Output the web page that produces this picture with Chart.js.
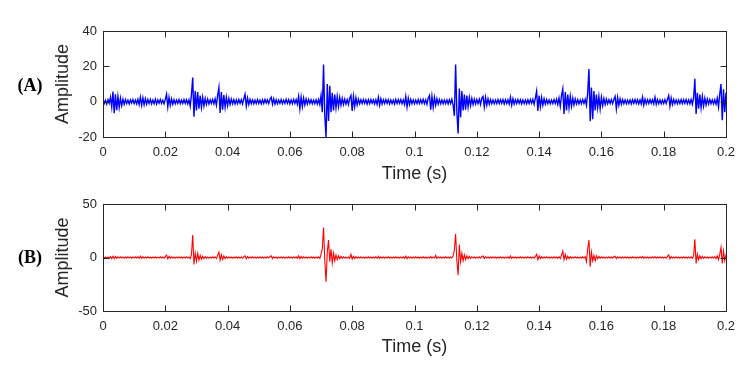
<!DOCTYPE html>
<html>
<head>
<meta charset="utf-8">
<script src="https://cdn.jsdelivr.net/npm/chart.js@4.4.1/dist/chart.umd.min.js"></script>
<style>
  body { margin: 0; background: #fff; }
  #wrap { position: relative; width: 750px; height: 380px; }
  #wrap canvas { position: absolute; left: 0; }
</style>
</head>
<body>
<div id="wrap">
  <canvas id="chartA" width="750" height="190" style="top:0"></canvas>
  <canvas id="chartB" width="750" height="190" style="top:173px"></canvas>
</div>
<script>
// sampling interval of both records (s)
const sampleStep = 0.0004;

const xTicks = [0, 0.02, 0.04, 0.06, 0.08, 0.1, 0.12, 0.14, 0.16, 0.18, 0.2];
const xTickLabels = ['0', '0.02', '0.04', '0.06', '0.08', '0.1', '0.12', '0.14', '0.16', '0.18', '0.2'];

const yTicksA = [-20, 0, 20, 40];
const yTickLabelsA = ['-20', '0', '20', '40'];
const yTicksB = [-50, 0, 50];
const yTickLabelsB = ['-50', '0', '50'];

// (A) raw signal, one row per 0.01 s
const signalA = [
  1.2,-1.0,0.8,-1.4,1.1,-0.9,2.5,-3.0,5.7,-6.5,4.2,-4.8,3.0,-3.2,2.0,-2.2,1.4,-1.5,1.2,-1.1,0.9,-1.3,1.0,-0.8,1.2,
  -1.1,0.9,-1.2,1.3,-1.6,2.5,-2.0,2.2,-1.8,1.6,-1.4,1.2,-1.0,1.3,-1.2,0.9,-1.1,1.4,-1.3,1.0,-0.9,1.2,-1.0,0.8,-1.2,
  1.3,4.2,-3.0,2.4,-2.0,1.6,-1.4,1.1,-1.2,0.9,-1.0,1.2,-1.1,0.8,-1.0,1.2,-0.9,1.1,-1.2,1.0,-2.5,4.0,13.6,-8.5,6.0,
  -5.0,5.5,-4.0,3.5,-3.2,2.5,-2.4,1.8,-1.6,1.4,-1.3,1.1,-1.0,1.3,-1.2,1.6,-2.0,3.5,8.0,-6.4,5.5,-4.6,3.8,-3.2,2.5,
  -2.2,1.8,-1.6,1.4,-1.2,1.1,-1.3,1.0,-1.1,1.2,-0.9,1.1,-1.2,1.6,4.2,-2.5,2.0,-1.6,1.3,-1.1,1.0,-1.2,0.9,-1.1,1.2,
  -1.0,0.9,-1.3,1.1,-1.0,1.2,-0.8,1.0,-1.1,1.4,2.5,-1.5,1.6,-1.3,1.1,-1.2,0.9,-1.0,1.2,-1.1,0.8,-1.0,1.3,-0.9,1.1,
  -1.2,1.0,-1.1,1.3,-1.0,1.2,-1.5,3.0,-4.0,2.6,-2.8,2.0,-1.8,1.5,-1.3,1.2,-1.0,1.1,-1.2,0.9,-1.1,1.0,-1.3,1.2,-1.6,
  3.5,-6.0,21.0,-8.0,-20.0,10.0,-11.0,9.0,-6.0,5.0,-5.0,4.0,-3.5,3.0,-2.8,2.4,-2.0,1.8,-1.6,1.4,-1.3,1.2,-1.5,2.0,3.5,
  -5.3,3.0,-2.8,2.2,-1.8,1.4,-1.2,1.1,-1.0,1.2,-0.9,1.1,-1.3,1.0,-1.1,1.2,-0.9,1.0,-1.2,1.1,-1.5,2.5,-2.0,1.6,-1.3,
  1.1,-1.0,1.2,-0.9,1.1,-1.2,1.0,-1.1,0.9,-1.3,1.2,-1.0,1.1,-0.9,1.2,-1.1,1.0,-1.6,3.0,-3.0,2.0,-1.6,1.3,-1.1,1.0,
  -1.2,0.9,-1.1,1.2,-1.0,1.1,-0.9,1.3,-1.1,1.0,-1.5,2.0,3.5,-4.5,3.0,-3.2,2.4,-2.0,1.6,-1.4,1.2,-1.1,1.0,-1.2,0.9,
  -1.1,1.0,-1.2,1.1,-1.0,1.3,-2.0,-8.0,21.0,-6.0,-18.0,7.5,-9.0,6.0,-5.0,4.0,-4.5,3.5,-3.0,2.5,-2.2,1.8,-1.6,1.4,-1.3,
  1.2,-1.1,1.4,-1.6,2.0,3.0,-3.0,2.4,-2.0,1.6,-1.4,1.2,-1.1,1.0,-1.2,0.9,-1.1,1.2,-1.0,1.1,-0.9,1.2,-1.3,1.0,-1.1,
  1.0,-1.3,2.5,-2.0,1.6,-1.3,1.1,-1.0,1.2,-0.9,1.1,-1.2,1.0,-1.1,0.9,-1.2,1.1,-1.0,1.2,-0.9,1.3,-1.5,2.0,6.0,-5.2,
  3.5,-3.0,2.4,-2.0,1.6,-1.4,1.2,-1.1,1.0,-1.2,0.9,-1.1,1.2,-1.0,1.4,-1.6,2.0,-2.6,3.5,7.2,-7.0,5.5,-5.0,4.0,-3.5,
  3.0,-2.6,2.0,-1.8,1.5,-1.3,1.1,-1.2,1.0,-1.1,1.2,-1.0,1.3,-2.0,5.0,18.5,-11.0,8.0,-10.0,6.0,-5.0,4.0,-3.5,3.0,-4.0,
  2.5,-2.2,1.8,-1.6,1.4,-1.2,1.1,-1.0,1.2,-1.1,1.3,3.0,-4.0,2.4,-2.0,1.6,-1.4,1.2,-1.1,1.0,-1.2,0.9,-1.1,1.0,-1.2,
  1.1,-0.9,1.2,-1.0,1.1,-1.2,1.0,-1.3,2.5,-2.0,1.4,-1.2,1.1,-1.0,1.2,-0.9,1.1,-1.2,2.5,-1.6,1.2,-1.1,1.0,-1.2,0.9,
  -1.1,1.2,-1.0,1.3,3.5,-2.5,2.0,-1.6,1.3,-1.1,1.0,-1.2,0.9,-1.1,1.2,-1.0,1.1,-0.9,1.2,-1.1,1.0,-1.2,1.3,-1.5,2.0,
  13.0,-7.0,5.0,-4.0,4.0,-3.5,3.0,-2.5,2.0,-1.8,1.5,-1.3,1.2,-1.1,1.0,-1.2,1.1,-1.4,2.0,-3.0,4.5,10.0,-10.5,7.0,-6.0,
  5.0
];

// (B) processed signal, one row per 0.01 s
const signalB = [
  0.6,-0.5,0.4,-0.7,0.5,-0.4,0.8,-1.0,1.2,-1.1,0.9,-0.8,0.6,-0.5,0.7,-0.4,0.5,-0.6,0.4,-0.5,0.6,-0.4,0.5,-0.6,0.4,
  -0.5,0.6,-0.4,0.7,-0.8,1.2,-0.9,0.8,-0.6,0.5,-0.4,0.6,-0.5,0.4,-0.6,0.5,-0.4,0.6,-0.5,0.4,-0.5,0.6,-0.4,0.5,-0.6,
  0.8,2.3,-1.2,1.0,-0.8,0.6,-0.5,0.4,-0.6,0.5,-0.4,0.6,-0.5,0.4,-0.6,0.5,-0.4,0.6,-0.5,0.4,-1.0,3.0,21.0,-6.5,4.0,
  -3.5,4.0,-2.5,2.0,-1.6,1.2,-1.0,0.8,-0.6,0.5,-0.6,0.4,-0.5,0.6,-0.4,0.7,-0.9,2.0,5.0,-2.5,2.5,-1.8,1.4,-1.0,0.8,
  -0.7,0.6,-0.5,0.4,-0.6,0.5,-0.4,0.6,-0.5,0.4,-0.6,0.5,-0.7,0.8,1.5,-1.2,0.9,-0.7,0.5,-0.4,0.6,-0.5,0.4,-0.6,0.5,
  -0.4,0.6,-0.5,0.4,-0.6,0.5,-0.4,0.6,-0.5,0.8,1.5,-1.0,0.7,-0.5,0.4,-0.6,0.5,-0.4,0.6,-0.5,0.4,-0.6,0.5,-0.4,0.6,
  -0.5,0.4,-0.6,0.5,-0.4,0.6,-0.7,1.5,-1.2,0.9,-0.8,0.6,-0.5,0.4,-0.6,0.5,-0.4,0.6,-0.5,0.4,-0.6,0.5,-0.4,0.6,-0.8,
  3.0,8.0,28.0,-3.0,-22.6,5.0,16.4,-4.0,8.0,-5.0,4.0,-3.0,2.5,-2.0,1.6,-1.2,1.0,-0.8,0.6,-0.5,0.4,-0.6,0.5,-0.8,3.0,
  -1.5,1.2,-1.0,0.8,-0.6,0.5,-0.4,0.6,-0.5,0.4,-0.6,0.5,-0.4,0.6,-0.5,0.4,-0.6,0.5,-0.4,0.6,-0.7,1.2,-0.8,0.6,-0.5,
  0.4,-0.6,0.5,-0.4,0.6,-0.5,0.4,-0.6,0.5,-0.4,0.6,-0.5,0.4,-0.6,0.5,-0.4,0.6,-0.7,1.2,-1.0,0.7,-0.5,0.4,-0.6,0.5,
  -0.4,0.6,-0.5,0.4,-0.6,0.5,-0.4,0.6,-0.5,0.4,-0.6,0.5,-0.7,0.9,-0.6,0.5,-0.4,2.0,-0.8,0.6,-0.5,0.4,-0.6,0.5,-0.4,
  0.6,-0.5,0.4,-0.6,0.5,-0.4,1.5,7.0,22.0,-3.0,-16.5,12.0,-4.0,4.0,-3.0,2.5,-2.0,1.5,-1.2,1.0,-0.8,0.6,-0.5,0.4,-0.6,
  0.5,-0.4,0.6,-0.7,0.9,1.5,-1.0,0.7,-0.5,0.4,-0.6,0.5,-0.4,0.6,-0.5,0.4,-0.6,0.5,-0.4,0.6,-0.5,0.4,-0.6,0.5,-0.4,
  0.6,-0.7,1.5,-0.9,0.7,-0.5,0.4,-0.6,0.5,-0.4,0.6,-0.5,0.4,-0.6,0.5,-0.4,0.6,-0.5,0.4,-0.6,0.5,-0.7,1.0,3.0,-2.0,
  1.4,-1.0,0.8,-0.6,0.5,-0.4,0.6,-0.5,0.4,-0.6,0.5,-0.4,0.6,-0.5,0.4,-0.6,0.8,-1.0,2.0,6.0,-2.0,3.0,-1.6,1.2,-1.0,
  0.8,-0.6,0.5,-0.4,0.6,-0.5,0.4,-0.6,0.5,-0.4,0.6,-0.5,0.8,-4.0,8.0,16.4,-8.6,5.0,-3.0,2.0,-3.0,1.5,-1.2,1.0,-0.8,
  0.6,-0.5,0.4,-0.6,0.5,-0.4,0.6,-0.5,0.4,-0.6,0.7,1.2,-1.0,0.7,-0.5,0.4,-0.6,0.5,-0.4,0.6,-0.5,0.4,-0.6,0.5,-0.4,
  0.6,-0.5,0.4,-0.6,0.5,-0.4,0.6,-0.5,1.0,-0.8,0.6,-0.5,0.4,-0.6,0.5,-0.4,0.6,-0.5,0.9,-0.6,0.5,-0.4,0.6,-0.5,0.4,
  -0.6,0.5,-0.7,1.0,2.5,-1.2,0.8,-0.6,0.5,-0.4,0.6,-0.5,0.4,-0.6,0.5,-0.4,0.6,-0.5,0.4,-0.6,0.5,-0.4,0.6,-0.7,1.5,
  17.0,-5.5,3.0,-2.0,1.6,-1.2,1.0,-0.8,0.6,-0.5,0.4,-0.6,0.5,-0.4,0.6,-0.7,0.8,-1.0,1.5,-2.0,3.0,9.5,-5.5,6.0,-3.0,
  3.0
];

const axisColor = '#262626';
const sansFont = '"Liberation Sans", Arial, sans-serif';

// box with inward tick marks on all four sides + panel tag "(A)" / "(B)"
const framePlugin = {
  id: 'frame',
  afterDraw(chart, args, opts) {
    const { ctx, chartArea: a, scales } = chart;
    const L = Math.round(a.left) + 0.5, R = Math.round(a.right) + 0.5;
    const T = Math.round(a.top) + 0.5, B = Math.round(a.bottom) + 0.5;
    const tl = 6;
    ctx.save();
    ctx.strokeStyle = axisColor;
    ctx.lineWidth = 1;
    ctx.strokeRect(L, T, R - L, B - T);
    ctx.beginPath();
    scales.x.ticks.forEach(t => {
      const px = Math.round(scales.x.getPixelForValue(t.value)) + 0.5;
      ctx.moveTo(px, B); ctx.lineTo(px, B - tl);
      ctx.moveTo(px, T); ctx.lineTo(px, T + tl);
    });
    scales.y.ticks.forEach(t => {
      const py = Math.round(scales.y.getPixelForValue(t.value)) + 0.5;
      ctx.moveTo(L, py); ctx.lineTo(L + tl, py);
      ctx.moveTo(R, py); ctx.lineTo(R - tl, py);
    });
    ctx.stroke();

    ctx.fillStyle = '#000';
    ctx.font = 'bold 18px "Liberation Serif", "Times New Roman", serif';
    ctx.textAlign = 'center';
    ctx.textBaseline = 'middle';
    ctx.fillText(opts.label, 30, opts.labelY);
    ctx.restore();
  }
};

function buildChart(id, values, color, lineWidth, yTicks, yLabels, panel, cfg) {
  const points = values.map((v, i) => ({ x: i * sampleStep, y: v }));
  return new Chart(document.getElementById(id), {
    type: 'line',
    data: {
      datasets: [{
        data: points,
        borderColor: color,
        borderWidth: lineWidth,
        pointRadius: 0,
        tension: 0,
        fill: false
      }]
    },
    options: {
      responsive: false,
      animation: false,
      events: [],
      layout: { padding: { left: 0, right: 24, top: 31, bottom: 0 } },
      plugins: {
        legend: { display: false },
        tooltip: { enabled: false },
        frame: { label: panel, labelY: cfg.labelY }
      },
      scales: {
        x: {
          type: 'linear',
          min: 0,
          max: 0.2,
          grid: { display: false, drawTicks: false },
          border: { display: false },
          afterBuildTicks: s => { s.ticks = xTicks.map(v => ({ value: v })); },
          afterFit: s => { s.height = cfg.xHeight; },
          ticks: {
            padding: 8,
            color: axisColor,
            maxRotation: 0,
            autoSkip: false,
            font: { family: sansFont, size: 13 },
            callback: (v, i) => xTickLabels[i]
          },
          title: {
            display: true,
            text: 'Time (s)',
            color: axisColor,
            font: { family: sansFont, size: 18 },
            padding: { top: 0, bottom: 5 }
          }
        },
        y: {
          min: yTicks[0],
          max: yTicks[yTicks.length - 1],
          grid: { display: false, drawTicks: false },
          border: { display: false },
          afterBuildTicks: s => { s.ticks = yTicks.map(v => ({ value: v })); },
          afterFit: s => { s.width = 103; },
          ticks: {
            padding: 6,
            color: axisColor,
            font: { family: sansFont, size: 13 },
            callback: (v, i) => yLabels[i]
          },
          title: {
            display: true,
            text: 'Amplitude',
            color: axisColor,
            font: { family: sansFont, size: 18 },
            padding: { top: 52, bottom: 0 }
          }
        }
      }
    },
    plugins: [framePlugin]
  });
}

buildChart('chartA', signalA, '#0000ff', 1.4, yTicksA, yTickLabelsA, '(A)', { xHeight: 53, labelY: 86 });
buildChart('chartB', signalB, '#ff0000', 1.1, yTicksB, yTickLabelsB, '(B)', { xHeight: 52, labelY: 85 });
</script>
</body>
</html>
